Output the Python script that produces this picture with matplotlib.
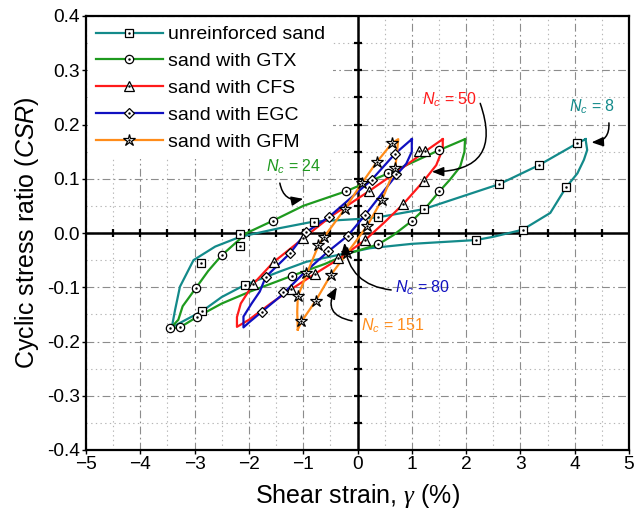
import matplotlib
matplotlib.use("Agg")
import matplotlib.pyplot as plt
from matplotlib.lines import Line2D
from matplotlib.legend_handler import HandlerTuple
from matplotlib.ticker import MultipleLocator, FormatStrFormatter

plt.rcParams['font.family'] = ['Liberation Sans', 'DejaVu Sans']
plt.rcParams['mathtext.fontset'] = 'custom'
plt.rcParams['mathtext.rm'] = 'Liberation Sans'
plt.rcParams['mathtext.it'] = 'Liberation Sans:italic'
plt.rcParams['mathtext.cal'] = 'Liberation Serif:italic'
plt.rcParams['axes.unicode_minus'] = True

# ---------------- data ----------------
series_names = ['unreinforced sand', 'sand with GTX', 'sand with CFS', 'sand with EGC', 'sand with GFM']
series_colors = ['#138a8a', '#1e9a1e', '#ff1a1a', '#1010c0', '#ff8c1a']
series_markers = ['s', 'o', '^', 'D', '*']
series_ms = [5.5, 6.0, 6.5, 5.5, 9.0]

# unreinforced sand (Nc = 8)
unr_x = [4.20, 4.23, 4.17, 4.05, 3.84, 3.55, 3.04, 2.50, 2.18, 1.00, 0.23, -0.38, -0.94, -1.43,
         -2.08, -2.50, -2.86, -3.20, -3.42, -3.36, -3.27, -3.02, -2.62, -2.16, -1.43, -0.81,
         0.05, 0.38, 1.22, 2.61, 3.34, 4.04, 4.20]
unr_y = [0.173, 0.153, 0.135, 0.110, 0.084, 0.037, 0.006, -0.007, -0.013, -0.020, -0.028, -0.041,
         -0.053, -0.071, -0.096, -0.118, -0.144, -0.162, -0.174, -0.142, -0.099, -0.050, -0.025,
         -0.007, 0.009, 0.021, 0.026, 0.029, 0.044, 0.090, 0.125, 0.165, 0.173]
unr_mx = [4.04, 3.34, 2.61, 1.22, 0.38, -0.81, -2.16, -2.16, -2.89, -2.86, -2.08, 2.18, 3.04, 3.84]
unr_my = [0.165, 0.125, 0.090, 0.044, 0.029, 0.021, -0.002, -0.024, -0.056, -0.144, -0.096,
          -0.013, 0.006, 0.084]

# sand with GTX (Nc = 24)
gtx_x = [1.98, 1.97, 1.89, 1.70, 1.51, 1.27, 1.01, 0.66, 0.38, -0.14, -0.60, -1.21, -1.98,
         -2.50, -2.96, -3.27, -3.45, -3.30, -3.22, -2.98, -2.75, -2.50, -2.04, -1.55, -1.00,
         -0.21, 0.57, 1.51, 1.98]
gtx_y = [0.173, 0.150, 0.122, 0.098, 0.077, 0.048, 0.023, -0.004, -0.021, -0.037, -0.057,
         -0.079, -0.108, -0.130, -0.155, -0.174, -0.176, -0.160, -0.135, -0.102, -0.070,
         -0.041, 0.000, 0.023, 0.050, 0.077, 0.110, 0.153, 0.173]
gtx_mx = [1.51, 1.51, 1.01, 0.38, -1.21, -2.96, -3.27, -3.45, -2.98, -2.50, -1.55, -0.21, 0.57]
gtx_my = [0.153, 0.077, 0.023, -0.021, -0.079, -0.155, -0.174, -0.176, -0.102, -0.041, 0.023,
          0.077, 0.110]

# sand with CFS (Nc = 50)
cfs_x = [1.57, 1.57, 1.45, 1.22, 0.84, 0.50, 0.14, -0.30, -0.78, -1.21, -1.60, -2.00, -2.22,
         -2.22, -2.15, -1.92, -1.55, -1.00, -0.50, 0.21, 0.80, 1.24, 1.57]
cfs_y = [0.173, 0.155, 0.125, 0.096, 0.053, 0.020, -0.013, -0.045, -0.075, -0.103, -0.130,
         -0.160, -0.173, -0.155, -0.130, -0.094, -0.054, -0.010, 0.030, 0.077, 0.118, 0.150, 0.173]
cfs_mx = [1.14, 1.24, 1.22, 0.84, 0.14, -0.35, -0.78, -1.22, -1.92, -1.53, -1.01, 0.21]
cfs_my = [0.151, 0.152, 0.096, 0.053, -0.013, -0.047, -0.076, -0.104, -0.094, -0.053, -0.010, 0.077]

# sand with EGC (Nc = 80)
egc_x = [1.00, 1.00, 0.90, 0.70, 0.14, -0.18, -0.54, -1.00, -1.40, -1.76, -2.00, -2.10, -2.10,
         -1.95, -1.80, -1.69, -1.24, -0.94, -0.52, 0.26, 0.69, 1.00]
egc_y = [0.173, 0.150, 0.128, 0.105, 0.033, -0.005, -0.034, -0.075, -0.115, -0.145, -0.165,
         -0.174, -0.154, -0.130, -0.108, -0.081, -0.037, 0.002, 0.030, 0.098, 0.146, 0.173]
egc_mx = [0.69, 0.26, -0.52, -0.94, -1.24, -1.69, -1.76, -1.37, -0.54, -0.17, 0.14, 0.70]
egc_my = [0.146, 0.098, 0.030, 0.002, -0.037, -0.081, -0.145, -0.108, -0.034, -0.005, 0.033, 0.108]

# sand with GFM (Nc = 151)
gfm_x = [-1.10, -1.11, -1.10, -0.93, -0.72, -0.62, -0.23, 0.08, 0.35, 0.63, 0.75, 0.72, 0.69,
         0.45, 0.17, -0.19, -0.49, -0.77, -1.03, -1.10]
gfm_y = [-0.178, -0.145, -0.117, -0.074, -0.023, -0.008, 0.045, 0.092, 0.130, 0.165, 0.173,
         0.140, 0.119, 0.061, 0.012, -0.037, -0.077, -0.125, -0.163, -0.178]
gfm_mx = [-1.09, -0.94, -0.72, -0.62, -0.23, 0.08, 0.35, 0.63, 0.69, 0.45, 0.17, -0.19, -0.49,
          -0.77, -1.04]
gfm_my = [-0.117, -0.074, -0.023, -0.008, 0.045, 0.092, 0.130, 0.165, 0.119, 0.061, 0.012,
          -0.037, -0.077, -0.125, -0.163]

line_x = [unr_x, gtx_x, cfs_x, egc_x, gfm_x]
line_y = [unr_y, gtx_y, cfs_y, egc_y, gfm_y]
mark_x = [unr_mx, gtx_mx, cfs_mx, egc_mx, gfm_mx]
mark_y = [unr_my, gtx_my, cfs_my, egc_my, gfm_my]

# annotations: label, colour index, text position, arrow start, arrow end, curvature
ann_labels = [r'$N_c$ = 8', r'$N_c$ = 24', r'$N_c$ = 50', r'$N_c$ = 80', r'$N_c$ = 151']
ann_series = [0, 1, 2, 3, 4]
ann_text_xy = [(4.32, 0.233), (-1.18, 0.123), (1.70, 0.245), (1.20, -0.101), (0.65, -0.170)]
ann_start = [(4.63, 0.203), (-1.43, 0.092), (2.26, 0.239), (0.62, -0.105), (-0.10, -0.162)]
ann_end = [(4.31, 0.167), (-1.00, 0.063), (1.37, 0.113), (-0.24, -0.018), (-0.38, -0.100)]
ann_rad = [-0.5, 0.5, -0.7, -0.4, -0.7]

x_ticks = [-5, -4, -3, -2, -1, 0, 1, 2, 3, 4, 5]
y_ticks = [-0.4, -0.3, -0.2, -0.1, 0.0, 0.1, 0.2, 0.3, 0.4]

# ---------------- figure ----------------
fig = plt.figure(figsize=(6.39, 5.15), dpi=100)
ax = fig.add_axes([86 / 639, 1 - 450 / 515, 543 / 639, 434 / 515])
ax.set_xlim(x_ticks[0], x_ticks[-1])
ax.set_ylim(y_ticks[0], y_ticks[-1])
ax.set_xticks(x_ticks)
ax.set_yticks(y_ticks)
ax.xaxis.set_minor_locator(MultipleLocator(0.5))
ax.yaxis.set_minor_locator(MultipleLocator(0.05))
ax.yaxis.set_major_formatter(FormatStrFormatter('%.1f'))
ax.set_axisbelow(True)
ax.grid(which='major', color='#8c8c8c', lw=0.8, linestyle=(0, (7, 3, 1.5, 3)))
ax.grid(which='minor', color='#b5b5b5', lw=0.8, linestyle=(0, (1.2, 3)))
ax.tick_params(which='major', direction='out', length=3, width=1, labelsize=13.75, pad=1.5)
ax.tick_params(which='minor', length=0)
for s in ax.spines.values():
    s.set_linewidth(1.6)

# central axes with tick marks
ax.axhline(0, color='black', lw=1.8, zorder=1.5)
ax.axvline(0, color='black', lw=1.8, zorder=1.5)
xminor = [v / 2 for v in range(-9, 10)]
yminor = [v / 20 for v in range(-7, 8)]
ax.plot(xminor, [0] * len(xminor), ls='none', marker='|', ms=6, mew=1.6, color='black', zorder=1.5)
ax.plot([0] * len(yminor), yminor, ls='none', marker='_', ms=6, mew=1.6, color='black', zorder=1.5)

handles = []
for i in range(5):
    ax.plot(line_x[i], line_y[i], color=series_colors[i], lw=1.6, zorder=3)
    ax.plot(mark_x[i], mark_y[i], ls='none', marker=series_markers[i], ms=series_ms[i],
            mfc='white', mec='black', mew=0.9, zorder=4)
    ax.plot(mark_x[i], mark_y[i], ls='none', marker='o', ms=1.4, mfc='black', mec='black',
            mew=0.3, zorder=5)
    h1 = Line2D([], [], color=series_colors[i], lw=1.6, marker=series_markers[i],
                ms=series_ms[i], mfc='white', mec='black', mew=0.9)
    h2 = Line2D([], [], ls='none', marker='o', ms=1.4, mfc='black', mec='black', mew=0.3)
    handles.append((h1, h2))

leg = ax.legend(handles, series_names, handler_map={tuple: HandlerTuple(ndivide=1, pad=0)},
                loc='upper left', fontsize=14, frameon=True, fancybox=False, framealpha=1,
                edgecolor='none', facecolor='white', handlelength=3.45, handletextpad=0.26,
                labelspacing=0.48, borderaxespad=0.1, borderpad=0.4, numpoints=1)
leg.set_zorder(6)

for lab, si, txy, st, en, rad in zip(ann_labels, ann_series, ann_text_xy, ann_start, ann_end, ann_rad):
    ax.text(txy[0], txy[1], lab, color=series_colors[si], fontsize=11.5,
            ha='center', va='center', zorder=7)
    ax.annotate('', xy=en, xytext=st,
                arrowprops=dict(arrowstyle='-|>,head_length=0.7,head_width=0.28', color='black',
                                lw=1.1, shrinkA=0, shrinkB=0,
                                connectionstyle='arc3,rad=%s' % rad), zorder=7)

ax.set_xlabel(r'Shear strain, $\mathcal{\gamma}$ (%)', fontsize=18, labelpad=6)
ax.set_ylabel(r'Cyclic stress ratio ($CSR$)', fontsize=18, labelpad=4)

fig.savefig('out.png', dpi=100)
